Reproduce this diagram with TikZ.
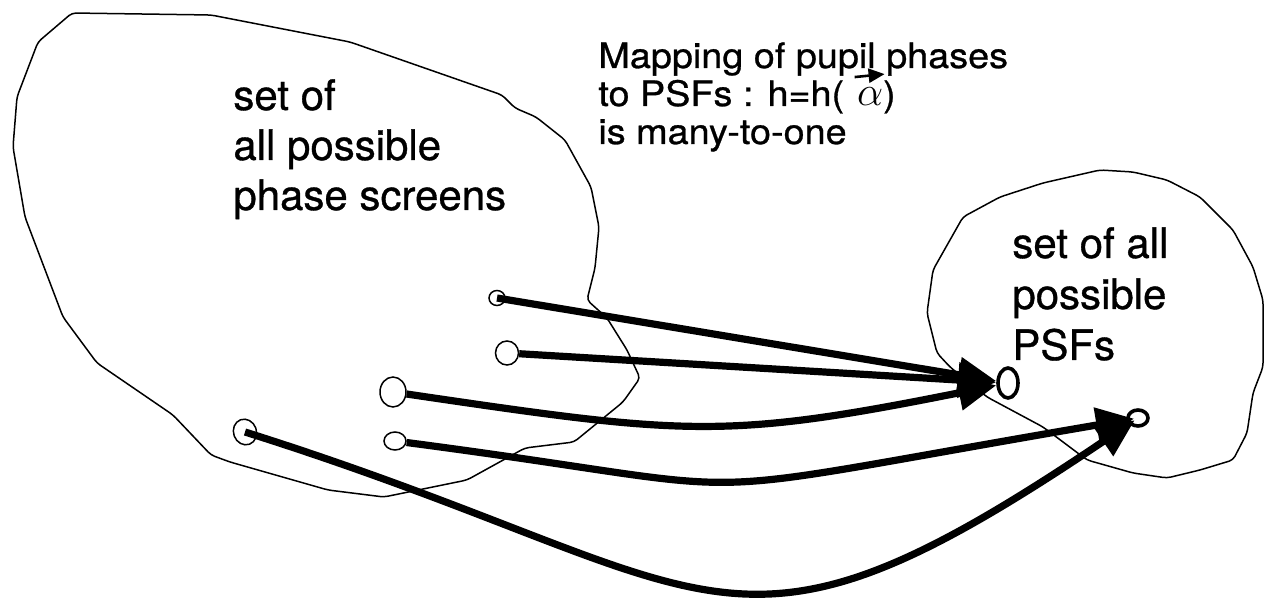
\documentclass[tikz,border=0pt]{standalone}
\usepackage{fontspec}
\setmainfont[FakeBold=0.8]{TeX Gyre Heros}
\newfontfamily\wideheros[FakeStretch=1.08,FakeBold=0.8]{TeX Gyre Heros}
\usetikzlibrary{shapes.geometric,arrows.meta}

\begin{document}
\begin{tikzpicture}[x=0.5pt,y=-0.5pt,
  outline/.style={line width=0.75pt, line join=round, rounded corners=2pt},
  setlabel/.style={anchor=base west, inner sep=0pt, font=\fontsize{21}{25}\selectfont},
  maptext/.style={anchor=base west, inner sep=0pt, font=\wideheros\fontsize{17.5}{20}\selectfont},
  source/.style={ellipse, draw, line width=0.75pt, inner sep=0pt},
  target/.style={ellipse, draw, line width=1.8pt, inner sep=0pt},
  maparrow/.style={line width=3.6pt, -{Triangle[length=19pt,width=17pt]}},
]
\useasboundingbox (0,0) rectangle (1264,598);

% set of phase screens
\draw[outline] (72,13) -- (211,15) -- (350,42) -- (502,95) -- (515,108) -- (536,117)
  -- (565,140) -- (591,187) -- (599,227) -- (595,268) -- (587,300) -- (607,318)
  -- (627,350) -- (640,378) -- (623,402) -- (574,442) -- (525,448) -- (467,480)
  -- (384,497) -- (328,490) -- (230,462) -- (211,455) -- (173,415) -- (97,363)
  -- (63,317) -- (25,217) -- (13,147) -- (17,97) -- (38,42) -- cycle;

% set of PSFs
\draw[outline] (927,313) -- (933,270) -- (963,217) -- (1000,197) -- (1043,183)
  -- (1100,170) -- (1133,172) -- (1167,180) -- (1200,197) -- (1220,217) -- (1233,230)
  -- (1253,267) -- (1263,300) -- (1263,367) -- (1253,393) -- (1247,433) -- (1233,460)
  -- (1200,470) -- (1167,478) -- (1133,473) -- (1087,460) -- (1043,427) -- (987,397)
  -- (950,367) -- (937,353) -- cycle;

% labels
\node[setlabel] (lt1) at (233,110) {set of};
\node[setlabel] (lt2) at (233,160) {all possible};
\node[setlabel] (lt3) at (233,210) {phase screens};
\node[setlabel] (rt1) at (1012,258) {set of all};
\node[setlabel] (rt2) at (1012,309) {possible};
\node[setlabel] (rt3) at (1012,360) {PSFs};

\node[maptext] (m1) at (598,68) {Mapping of pupil phases};
\node[maptext] (m2) at (598,106) {to PSFs : h=h(};
\node[maptext] (alpha) at ([xshift=6pt]m2.base east) {{\fontsize{21}{21}\selectfont$\alpha$})};
\node[maptext] (m3) at (598,144) {is many-to-one};
\draw[line width=1.3pt, -{Triangle[length=8pt,width=7pt]}]
  ([xshift=-1pt,yshift=1.5pt]alpha.north west) -- ++(15pt,1.5pt);

% phase screens and their PSFs
\node[source, minimum width=8pt, minimum height=7.5pt] (c1) at (497,298) {};
\node[source, minimum width=11.5pt, minimum height=12pt] (c2) at (507,353) {};
\node[source, minimum width=13pt, minimum height=15pt] (c3) at (393,392) {};
\node[source, minimum width=11pt, minimum height=9pt] (c4) at (395,441) {};
\node[source, minimum width=11.5pt, minimum height=13pt, rotate=20] (c5) at (245,432) {};
\node[target, minimum width=10pt, minimum height=15pt] (t1) at (1008,383) {};
\node[target, minimum width=10pt, minimum height=8pt] (t2) at (1138,418) {};

% the mapping
\draw[maparrow] (c1.center) -- (t1);
\draw[maparrow] (c2) -- (t1);
\draw[maparrow] (c3) .. controls (685,435) and (724,440) .. (t1);
\draw[maparrow, shorten >=2pt] (c4) .. controls (800,494) and (640,503) .. (t2.center);
\draw[maparrow, shorten >=2pt] (c5.center) .. controls (730,585) and (720,700) .. (t2.center);
\end{tikzpicture}
\end{document}
